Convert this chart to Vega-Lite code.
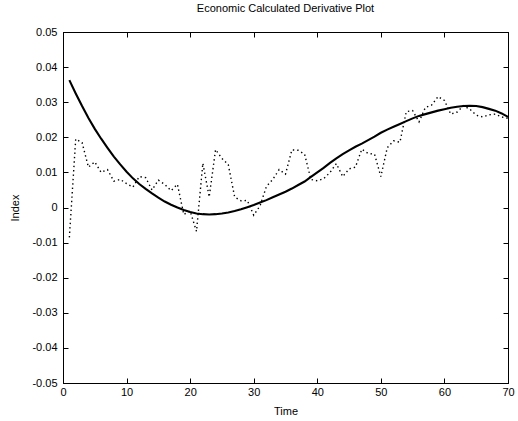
{
  "$schema": "https://vega.github.io/schema/vega-lite/v6.json",
  "autosize": "none",
  "padding": {"left": 63, "top": 32, "right": 10, "bottom": 38},
  "width": 445,
  "height": 351,
  "background": "white",
  "title": {"text": "Economic Calculated Derivative Plot", "font": "Liberation Sans", "fontSize": 11, "fontWeight": "normal", "color": "black", "offset": 12, "anchor": "middle"},
  "config": {
    "view": {"stroke": "black", "strokeWidth": 1},
    "axis": {"grid": false, "domainColor": "black", "tickColor": "black", "tickSize": -5, "labelColor": "black", "labelFont": "Liberation Sans", "labelFontSize": 11, "titleFont": "Liberation Sans", "titleFontSize": 11, "titleFontWeight": "normal", "titleColor": "black", "labelFlush": false, "labelOverlap": false}
  },
  "data": {"values": [
    {"t":1,"fit":0.0363,"obs":-0.0085},
    {"t":2,"fit":0.0325,"obs":0.0195},
    {"t":3,"fit":0.0289,"obs":0.0185},
    {"t":4,"fit":0.0255,"obs":0.0115},
    {"t":5,"fit":0.0224,"obs":0.0130},
    {"t":6,"fit":0.0196,"obs":0.0100},
    {"t":7,"fit":0.0170,"obs":0.0108},
    {"t":8,"fit":0.0145,"obs":0.0075},
    {"t":9,"fit":0.0123,"obs":0.0080},
    {"t":10,"fit":0.0102,"obs":0.0068},
    {"t":11,"fit":0.0083,"obs":0.0058},
    {"t":12,"fit":0.0067,"obs":0.0088},
    {"t":13,"fit":0.0053,"obs":0.0085},
    {"t":14,"fit":0.0040,"obs":0.0050},
    {"t":15,"fit":0.0028,"obs":0.0078},
    {"t":16,"fit":0.0017,"obs":0.0066},
    {"t":17,"fit":0.0008,"obs":0.0048},
    {"t":18,"fit":0.0000,"obs":0.0066},
    {"t":19,"fit":-0.0007,"obs":-0.0020},
    {"t":20,"fit":-0.0013,"obs":-0.0010},
    {"t":21,"fit":-0.0017,"obs":-0.0068},
    {"t":22,"fit":-0.0019,"obs":0.0126},
    {"t":23,"fit":-0.0020,"obs":0.0030},
    {"t":24,"fit":-0.0019,"obs":0.0165},
    {"t":25,"fit":-0.0017,"obs":0.0140},
    {"t":26,"fit":-0.0014,"obs":0.0122},
    {"t":27,"fit":-0.0010,"obs":0.0030},
    {"t":28,"fit":-0.0005,"obs":0.0019},
    {"t":29,"fit":0.0001,"obs":0.0020},
    {"t":30,"fit":0.0007,"obs":-0.0022},
    {"t":31,"fit":0.0014,"obs":0.0005},
    {"t":32,"fit":0.0021,"obs":0.0060},
    {"t":33,"fit":0.0029,"obs":0.0080},
    {"t":34,"fit":0.0037,"obs":0.0108},
    {"t":35,"fit":0.0045,"obs":0.0095},
    {"t":36,"fit":0.0054,"obs":0.0164},
    {"t":37,"fit":0.0064,"obs":0.0163},
    {"t":38,"fit":0.0074,"obs":0.0152},
    {"t":39,"fit":0.0087,"obs":0.0080},
    {"t":40,"fit":0.0100,"obs":0.0076},
    {"t":41,"fit":0.0113,"obs":0.0082},
    {"t":42,"fit":0.0127,"obs":0.0100},
    {"t":43,"fit":0.0140,"obs":0.0125},
    {"t":44,"fit":0.0152,"obs":0.0088},
    {"t":45,"fit":0.0163,"obs":0.0110},
    {"t":46,"fit":0.0173,"obs":0.0115},
    {"t":47,"fit":0.0182,"obs":0.0166},
    {"t":48,"fit":0.0192,"obs":0.0154},
    {"t":49,"fit":0.0202,"obs":0.0152},
    {"t":50,"fit":0.0213,"obs":0.0088},
    {"t":51,"fit":0.0222,"obs":0.0170},
    {"t":52,"fit":0.0230,"obs":0.0190},
    {"t":53,"fit":0.0238,"obs":0.0186},
    {"t":54,"fit":0.0246,"obs":0.0273},
    {"t":55,"fit":0.0254,"obs":0.0276},
    {"t":56,"fit":0.0261,"obs":0.0244},
    {"t":57,"fit":0.0266,"obs":0.0285},
    {"t":58,"fit":0.0271,"obs":0.0292},
    {"t":59,"fit":0.0276,"obs":0.0316},
    {"t":60,"fit":0.0280,"obs":0.0305},
    {"t":61,"fit":0.0284,"obs":0.0266},
    {"t":62,"fit":0.0287,"obs":0.0272},
    {"t":63,"fit":0.0289,"obs":0.0290},
    {"t":64,"fit":0.0290,"obs":0.0280},
    {"t":65,"fit":0.0289,"obs":0.0263},
    {"t":66,"fit":0.0286,"obs":0.0258},
    {"t":67,"fit":0.0281,"obs":0.0264},
    {"t":68,"fit":0.0276,"obs":0.0266},
    {"t":69,"fit":0.0268,"obs":0.0258},
    {"t":70,"fit":0.0258,"obs":0.0254}
  ]},
  "layer": [
    {
      "mark": {"type": "line", "color": "black", "strokeWidth": 1.4, "strokeDash": [1.4, 3], "clip": true},
      "encoding": {
        "x": {"field": "t", "type": "quantitative", "scale": {"domain": [0, 70], "nice": false, "zero": false},
              "axis": {"orient": "bottom", "title": "Time", "values": [0,10,20,30,40,50,60,70], "labelPadding": 8, "titlePadding": 8}},
        "y": {"field": "obs", "type": "quantitative", "scale": {"domain": [-0.05, 0.05], "nice": false, "zero": false},
              "axis": {"orient": "left", "title": "Index", "values": [-0.05,-0.04,-0.03,-0.02,-0.01,0,0.01,0.02,0.03,0.04,0.05], "labelPadding": 11, "titlePadding": 11,
                       "labelExpr": "datum.value == 0 ? '0' : (datum.value < 0 ? '-' : '') + format(abs(datum.value), '.2f')"}}
      }
    },
    {
      "mark": {"type": "line", "color": "black", "strokeWidth": 2.1, "clip": true},
      "encoding": {
        "x": {"field": "t", "type": "quantitative", "axis": {"orient": "top", "title": null, "labels": false, "values": [0,10,20,30,40,50,60,70]}},
        "y": {"field": "fit", "type": "quantitative", "axis": {"orient": "right", "title": null, "labels": false, "values": [-0.05,-0.04,-0.03,-0.02,-0.01,0,0.01,0.02,0.03,0.04,0.05]}}
      }
    }
  ],
  "resolve": {"axis": {"x": "independent", "y": "independent"}}
}
